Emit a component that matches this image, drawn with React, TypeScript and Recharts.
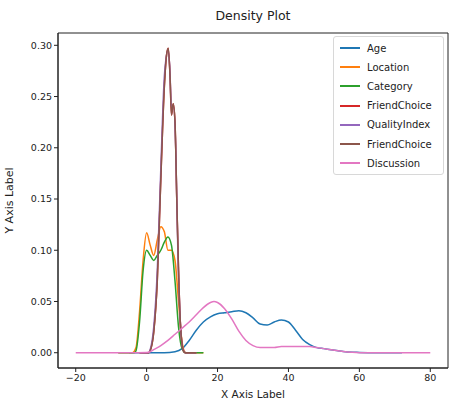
import React from 'react';
import { LineChart, Line, XAxis, YAxis, ReferenceArea } from 'recharts';

const ageX = [-5, 5, 8, 10, 12, 14, 16, 18, 20, 22, 24, 26, 28, 30, 32, 34, 36, 38, 40, 42, 44, 46, 48, 50, 52, 54, 56, 60, 65, 72];
const ageY = [0, 0, 0.001, 0.004, 0.012, 0.022, 0.03, 0.035, 0.038, 0.039, 0.04, 0.041, 0.039, 0.034, 0.028, 0.027, 0.03, 0.032, 0.03, 0.022, 0.013, 0.008, 0.005, 0.004, 0.003, 0.002, 0.001, 0.0003, 0, 0];

const locationX = [-8, -4, -3, -2, -1, 0, 1, 2, 3, 4, 5, 6, 7, 8, 9, 10, 11, 16];
const locationY = [0, 0, 0.005, 0.04, 0.09, 0.117, 0.105, 0.095, 0.11, 0.123, 0.118, 0.1, 0.1, 0.09, 0.05, 0.01, 0, 0];

const categoryX = [-8, -3.5, -3, -2, -1, 0, 1, 2, 3, 4, 5, 6, 7, 8, 9, 10, 11, 16];
const categoryY = [0, 0, 0.002, 0.03, 0.08, 0.1, 0.095, 0.09, 0.095, 0.1, 0.108, 0.113, 0.105, 0.07, 0.025, 0.004, 0, 0];

const friendX = [-2, 0.5, 1, 2, 3, 4, 5, 5.6, 6.1, 6.6, 7, 7.5, 8, 8.5, 9, 9.5, 10, 10.5, 11, 14];
const friendY = [0, 0, 0.002, 0.02, 0.07, 0.17, 0.26, 0.29, 0.297, 0.27, 0.232, 0.243, 0.225, 0.15, 0.08, 0.03, 0.008, 0.001, 0, 0];

const qualityX = [-2, 0.5, 1, 2, 3, 4, 5, 6, 6.5, 7, 7.6, 8.2, 8.8, 9.5, 10.2, 11, 14];
const qualityY = [0, 0, 0.003, 0.025, 0.08, 0.18, 0.27, 0.295, 0.28, 0.24, 0.24, 0.2, 0.1, 0.03, 0.004, 0, 0];

const discussionX = [-20, -5, 0, 1, 2, 4, 6, 8, 10, 12, 14, 16, 18, 19, 20, 22, 24, 26, 28, 30, 32, 34, 36, 38, 40, 42, 44, 46, 48, 50, 52, 54, 56, 58, 62, 80];
const discussionY = [0, 0, 0.0003, 0.001, 0.003, 0.007, 0.012, 0.018, 0.024, 0.03, 0.037, 0.044, 0.049, 0.05, 0.049, 0.043, 0.033, 0.021, 0.012, 0.007, 0.005, 0.005, 0.005, 0.006, 0.006, 0.006, 0.006, 0.006, 0.005, 0.004, 0.003, 0.002, 0.001, 0.0005, 0, 0];

const xTicks = [-20, 0, 20, 40, 60, 80];
const yTicks = [0, 0.05, 0.1, 0.15, 0.2, 0.25, 0.3];

const toPts = (xs: number[], ys: number[]) => xs.map((x, i) => ({ x, y: ys[i] }));

const series = [
  { name: 'Age', color: '#1f77b4', data: toPts(ageX, ageY) },
  { name: 'Location', color: '#ff7f0e', data: toPts(locationX, locationY) },
  { name: 'Category', color: '#2ca02c', data: toPts(categoryX, categoryY) },
  { name: 'FriendChoice', color: '#d62728', data: toPts(friendX, friendY) },
  { name: 'QualityIndex', color: '#9467bd', data: toPts(qualityX, qualityY) },
  { name: 'FriendChoice', color: '#8c564b', data: toPts(friendX, friendY) },
  { name: 'Discussion', color: '#e377c2', data: toPts(discussionX, discussionY) },
];

const FONT = 'DejaVu Sans, sans-serif';

const LegendBox = () => (
  <div
    style={{
      position: 'absolute',
      left: 333,
      top: 36,
      width: 111,
      height: 139,
      border: '1px solid #d8d8d8',
      borderRadius: 3,
      background: 'rgba(255,255,255,0.8)',
      boxSizing: 'border-box',
      fontFamily: FONT,
      fontSize: 10,
      color: '#222',
    }}
  >
    {series.map((s, i) => (
      <div key={i} style={{ position: 'absolute', left: 6, top: 3 + i * 19.2, height: 16, display: 'flex', alignItems: 'center', whiteSpace: 'nowrap' }}>
        <div style={{ width: 20, height: 2, background: s.color, marginRight: 7 }} />
        <span>{s.name}</span>
      </div>
    ))}
  </div>
);

export default function App() {
  return (
    <div style={{ position: 'absolute', left: 0, top: 0, width: 450, height: 404, background: '#fff' }}>
      <div style={{ position: 'absolute', left: 0, top: 8, width: 506, textAlign: 'center', fontFamily: FONT, fontSize: 12.5, color: '#222' }}>
        Density Plot
      </div>
      <LineChart width={450} height={404} margin={{ top: 33, right: 2, bottom: 0, left: 0 }}>
        <XAxis
          type="number"
          dataKey="x"
          domain={[-25, 85]}
          allowDataOverflow
          ticks={xTicks}
          tickFormatter={(v: number) => String(v).replace('-', '\u2212')}
          tick={{ fontSize: 9.5, fill: '#222', fontFamily: FONT }}
          tickSize={4}
          tickMargin={2}
          height={36}
          stroke="#222"
          label={{ value: 'X Axis Label', position: 'insideBottom', offset: 6, fontSize: 10.5, fill: '#222', fontFamily: FONT }}
        />
        <YAxis
          type="number"
          domain={[-0.0149, 0.312]}
          allowDataOverflow
          ticks={yTicks}
          tickFormatter={(v: number) => v.toFixed(2)}
          tick={{ fontSize: 9.5, fill: '#222', fontFamily: FONT }}
          tickSize={4}
          tickMargin={2}
          width={58}
          stroke="#222"
          label={{ value: 'Y Axis Label', angle: -90, position: 'insideLeft', offset: 9, fontSize: 11, fill: '#222', fontFamily: FONT, style: { textAnchor: 'middle' } }}
        />
        <ReferenceArea x1={-25} x2={85} y1={-0.0149} y2={0.312} fill="none" stroke="#222" strokeWidth={1} />
        {series.map((s, i) => (
          <Line
            key={i}
            data={s.data}
            dataKey="y"
            name={s.name}
            type="monotone"
            stroke={s.color}
            strokeWidth={1.5}
            dot={false}
            isAnimationActive={false}
          />
        ))}
      </LineChart>
      <LegendBox />
    </div>
  );
}
